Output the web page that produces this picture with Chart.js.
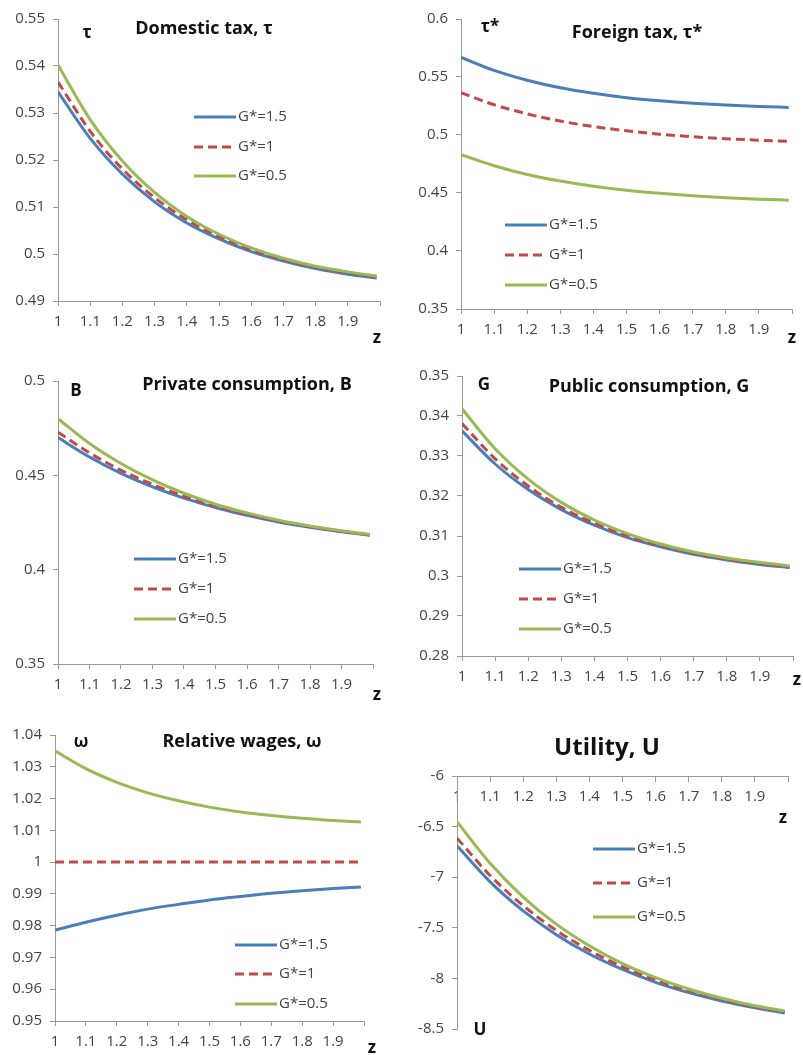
<!DOCTYPE html>
<html>
<head>
<meta charset="utf-8">
<script src="https://cdn.jsdelivr.net/npm/chart.js@4.4.0/dist/chart.umd.min.js"></script>
<style>
  html, body { margin: 0; padding: 0; background: #fff; width: 803px; height: 1055px; overflow: hidden; position: relative; }
</style>
</head>
<body>
<script>
// Ratio of foreign to home productivity, z
const zValues = [1, 1.1, 1.2, 1.3, 1.4, 1.5, 1.6, 1.7, 1.8, 1.9, 1.99];
const seriesLabels = ['G*=1.5', 'G*=1', 'G*=0.5'];

// Domestic tax, tau
const tauHome15 = [0.5345, 0.5246, 0.5170, 0.5111, 0.5066, 0.5032, 0.5005, 0.4985, 0.4969, 0.4957, 0.4949];
const tauHome10 = [0.5366, 0.5261, 0.5181, 0.5120, 0.5073, 0.5037, 0.5009, 0.4988, 0.4972, 0.4960, 0.4951];
const tauHome05 = [0.5402, 0.5286, 0.5198, 0.5131, 0.5080, 0.5042, 0.5013, 0.4991, 0.4974, 0.4962, 0.4953];

// Foreign tax, tau*
const tauForeign15 = [0.5670, 0.5557, 0.5472, 0.5407, 0.5359, 0.5322, 0.5295, 0.5274, 0.5258, 0.5246, 0.5238];
const tauForeign10 = [0.5364, 0.5261, 0.5182, 0.5120, 0.5073, 0.5036, 0.5007, 0.4985, 0.4968, 0.4955, 0.4945];
const tauForeign05 = [0.4831, 0.4735, 0.4660, 0.4603, 0.4558, 0.4523, 0.4497, 0.4476, 0.4460, 0.4447, 0.4438];

// Private consumption, B
const privB15 = [0.4700, 0.4597, 0.4510, 0.4439, 0.4379, 0.4329, 0.4288, 0.4253, 0.4225, 0.4201, 0.4183];
const privB10 = [0.4729, 0.4619, 0.4527, 0.4452, 0.4389, 0.4337, 0.4294, 0.4257, 0.4228, 0.4203, 0.4184];
const privB05 = [0.4800, 0.4669, 0.4563, 0.4476, 0.4405, 0.4347, 0.4301, 0.4262, 0.4231, 0.4206, 0.4186];

// Public consumption, G
const pubG15 = [0.3363, 0.3280, 0.3216, 0.3166, 0.3127, 0.3096, 0.3073, 0.3054, 0.3040, 0.3029, 0.3021];
const pubG10 = [0.3381, 0.3293, 0.3225, 0.3172, 0.3132, 0.3100, 0.3076, 0.3057, 0.3042, 0.3031, 0.3022];
const pubG05 = [0.3418, 0.3318, 0.3242, 0.3184, 0.3140, 0.3106, 0.3080, 0.3060, 0.3045, 0.3034, 0.3025];

// Relative wages, omega
const wage15 = [0.9786, 0.9811, 0.9833, 0.9852, 0.9867, 0.9881, 0.9892, 0.9902, 0.9910, 0.9917, 0.9922];
const wage10 = [1, 1, 1, 1, 1, 1, 1, 1, 1, 1, 1];
const wage05 = [1.0350, 1.0294, 1.0251, 1.0218, 1.0193, 1.0173, 1.0158, 1.0147, 1.0138, 1.0131, 1.0126];

// Utility, U
const util15 = [-6.690, -7.046, -7.333, -7.568, -7.759, -7.912, -8.039, -8.141, -8.224, -8.291, -8.341];
const util10 = [-6.614, -6.983, -7.281, -7.526, -7.723, -7.885, -8.016, -8.122, -8.209, -8.280, -8.331];
const util05 = [-6.451, -6.863, -7.196, -7.464, -7.678, -7.854, -7.992, -8.105, -8.196, -8.270, -8.323];

// Axis ranges: [min, max, step]
const zRange = [1, 2, 0.1];
const rangeTauHome = [0.49, 0.55, 0.01];
const rangeTauForeign = [0.35, 0.6, 0.05];
const rangePrivB = [0.35, 0.5, 0.05];
const rangePubG = [0.28, 0.35, 0.01];
const rangeWage = [0.95, 1.04, 0.01];
const rangeUtil = [-8.5, -6, 0.5];

const FONT = '"Open Sans", "Liberation Sans", sans-serif';
const lineStyles = [
  { color: '#4a7ebb', dash: [] },
  { color: '#be4b48', dash: [9, 5] },
  { color: '#98b954', dash: [] }
];
const AXIS_GREY = '#9a9a9a';
const TICK_TEXT = '#444';

function fmt(v, digits) { return String(+v.toFixed(digits)); }

function buildPanel(spec) {
  const YW = 50, PR = 14;
  const a = spec.area;
  const left = a.l - YW;
  const top = a.t - spec.padTop;
  const width = a.r + PR - left;
  const height = a.b + spec.padBottom - top;

  const canvas = document.createElement('canvas');
  canvas.width = width;
  canvas.height = height;
  canvas.style.cssText = 'position:absolute;left:' + left + 'px;top:' + top + 'px;width:' + width + 'px;height:' + height + 'px';
  document.body.appendChild(canvas);

  const datasets = spec.series.map((vals, i) => ({
    label: seriesLabels[i],
    data: zValues.map((z, k) => ({ x: z, y: vals[k] })),
    borderColor: lineStyles[i].color,
    borderDash: lineStyles[i].dash,
    borderWidth: 3,
    pointRadius: 0,
    fill: false,
    tension: 0.4,
    cubicInterpolationMode: 'monotone',
    order: 2 - i
  }));

  const yr = spec.yRange;
  const tickFont = { family: FONT, size: 15 };

  // Titles, axis letters and the in-plot legend
  const annotate = {
    id: 'panelText',
    afterDraw(chart) {
      const ctx = chart.ctx;
      ctx.save();
      ctx.textBaseline = 'middle';
      spec.notes.forEach(n => {
        ctx.font = n.font;
        ctx.fillStyle = '#111';
        ctx.textAlign = n.align || 'center';
        ctx.fillText(n.text, n.x - left, n.y - top);
      });
      const lg = spec.legend;
      chart.data.datasets.forEach((ds, i) => {
        const x = lg.x - left, y = lg.rows[i] - top;
        ctx.beginPath();
        ctx.strokeStyle = ds.borderColor;
        ctx.lineWidth = ds.borderWidth;
        ctx.setLineDash(ds.borderDash || []);
        ctx.moveTo(x, y);
        ctx.lineTo(x + 42, y);
        ctx.stroke();
        ctx.setLineDash([]);
        ctx.font = '15px ' + FONT;
        ctx.fillStyle = TICK_TEXT;
        ctx.textAlign = 'left';
        ctx.fillText(ds.label, x + 44, y);
      });
      ctx.restore();
    }
  };

  new Chart(canvas, {
    type: 'line',
    data: { datasets },
    plugins: [annotate],
    options: {
      responsive: false,
      animation: false,
      devicePixelRatio: 1,
      layout: { padding: { top: spec.padTop, right: PR, left: 0, bottom: spec.xOnTop ? spec.padBottom : 0 } },
      plugins: { legend: { display: false }, tooltip: { enabled: false }, title: { display: false } },
      scales: {
        x: {
          type: 'linear',
          position: spec.xOnTop ? { y: yr[1] } : 'bottom',
          min: zRange[0], max: zRange[1],
          afterFit: s => { if (!spec.xOnTop) s.height = spec.padBottom; },
          grid: { drawOnChartArea: false, drawTicks: true, tickLength: 5, color: AXIS_GREY },
          border: { display: true, color: AXIS_GREY, width: 1 },
          ticks: {
            stepSize: zRange[2], autoSkip: false, maxRotation: 0, padding: 7,
            font: tickFont, color: TICK_TEXT,
            callback: v => (v > 1.95 ? '' : fmt(v, 1))
          }
        },
        y: {
          type: 'linear',
          min: yr[0], max: yr[1],
          afterFit: s => { s.width = YW; },
          grid: { drawOnChartArea: false, drawTicks: true, tickLength: 5, color: AXIS_GREY },
          border: { display: true, color: AXIS_GREY, width: 1 },
          ticks: {
            stepSize: yr[2], autoSkip: false, padding: 8,
            font: tickFont, color: TICK_TEXT,
            callback: v => fmt(v, 3)
          }
        }
      }
    }
  });
}

const TITLE = 'bold 18px ' + FONT;
const LETTER = 'bold 17px ' + FONT;

buildPanel({
  area: { l: 58, r: 380, t: 17, b: 301 }, padTop: 15, padBottom: 50,
  yRange: rangeTauHome, series: [tauHome15, tauHome10, tauHome05],
  legend: { x: 194, rows: [117, 147, 176] },
  notes: [
    { text: 'Domestic tax, τ', x: 204, y: 29, font: TITLE },
    { text: 'τ', x: 87, y: 33, font: LETTER },
    { text: 'z', x: 377, y: 338, font: LETTER }
  ]
});

buildPanel({
  area: { l: 461, r: 792, t: 17, b: 309 }, padTop: 15, padBottom: 45,
  yRange: rangeTauForeign, series: [tauForeign15, tauForeign10, tauForeign05],
  legend: { x: 505, rows: [225, 255, 285] },
  notes: [
    { text: 'Foreign tax, τ*', x: 637, y: 33, font: TITLE },
    { text: 'τ*', x: 490, y: 27, font: LETTER },
    { text: 'z', x: 792, y: 338, font: LETTER }
  ]
});

buildPanel({
  area: { l: 58, r: 373, t: 379, b: 664 }, padTop: 15, padBottom: 45,
  yRange: rangePrivB, series: [privB15, privB10, privB05],
  legend: { x: 134, rows: [559, 589, 619] },
  notes: [
    { text: 'Private consumption, B', x: 247, y: 385, font: TITLE },
    { text: 'B', x: 76, y: 391, font: LETTER },
    { text: 'z', x: 377, y: 695, font: LETTER }
  ]
});

buildPanel({
  area: { l: 462, r: 793, t: 374, b: 656 }, padTop: 15, padBottom: 40,
  yRange: rangePubG, series: [pubG15, pubG10, pubG05],
  legend: { x: 519, rows: [569, 599, 629] },
  notes: [
    { text: 'Public consumption, G', x: 649, y: 387, font: TITLE },
    { text: 'G', x: 484, y: 385, font: LETTER },
    { text: 'z', x: 797, y: 680, font: LETTER }
  ]
});

buildPanel({
  area: { l: 55, r: 364, t: 733, b: 1021 }, padTop: 15, padBottom: 34,
  yRange: rangeWage, series: [wage15, wage10, wage05],
  legend: { x: 235, rows: [945, 974, 1004] },
  notes: [
    { text: 'Relative wages, ω', x: 242, y: 742, font: TITLE },
    { text: 'ω', x: 81, y: 742, font: LETTER },
    { text: 'z', x: 372, y: 1048, font: LETTER }
  ]
});

buildPanel({
  area: { l: 457, r: 788, t: 776, b: 1032 }, padTop: 45, padBottom: 14, xOnTop: true,
  yRange: rangeUtil, series: [util15, util10, util05],
  legend: { x: 593, rows: [849, 883, 917] },
  notes: [
    { text: 'Utility, U', x: 607, y: 748, font: 'bold 24px ' + FONT },
    { text: 'U', x: 480, y: 1030, font: LETTER },
    { text: 'z', x: 783, y: 818, font: LETTER }
  ]
});
</script>
</body>
</html>
